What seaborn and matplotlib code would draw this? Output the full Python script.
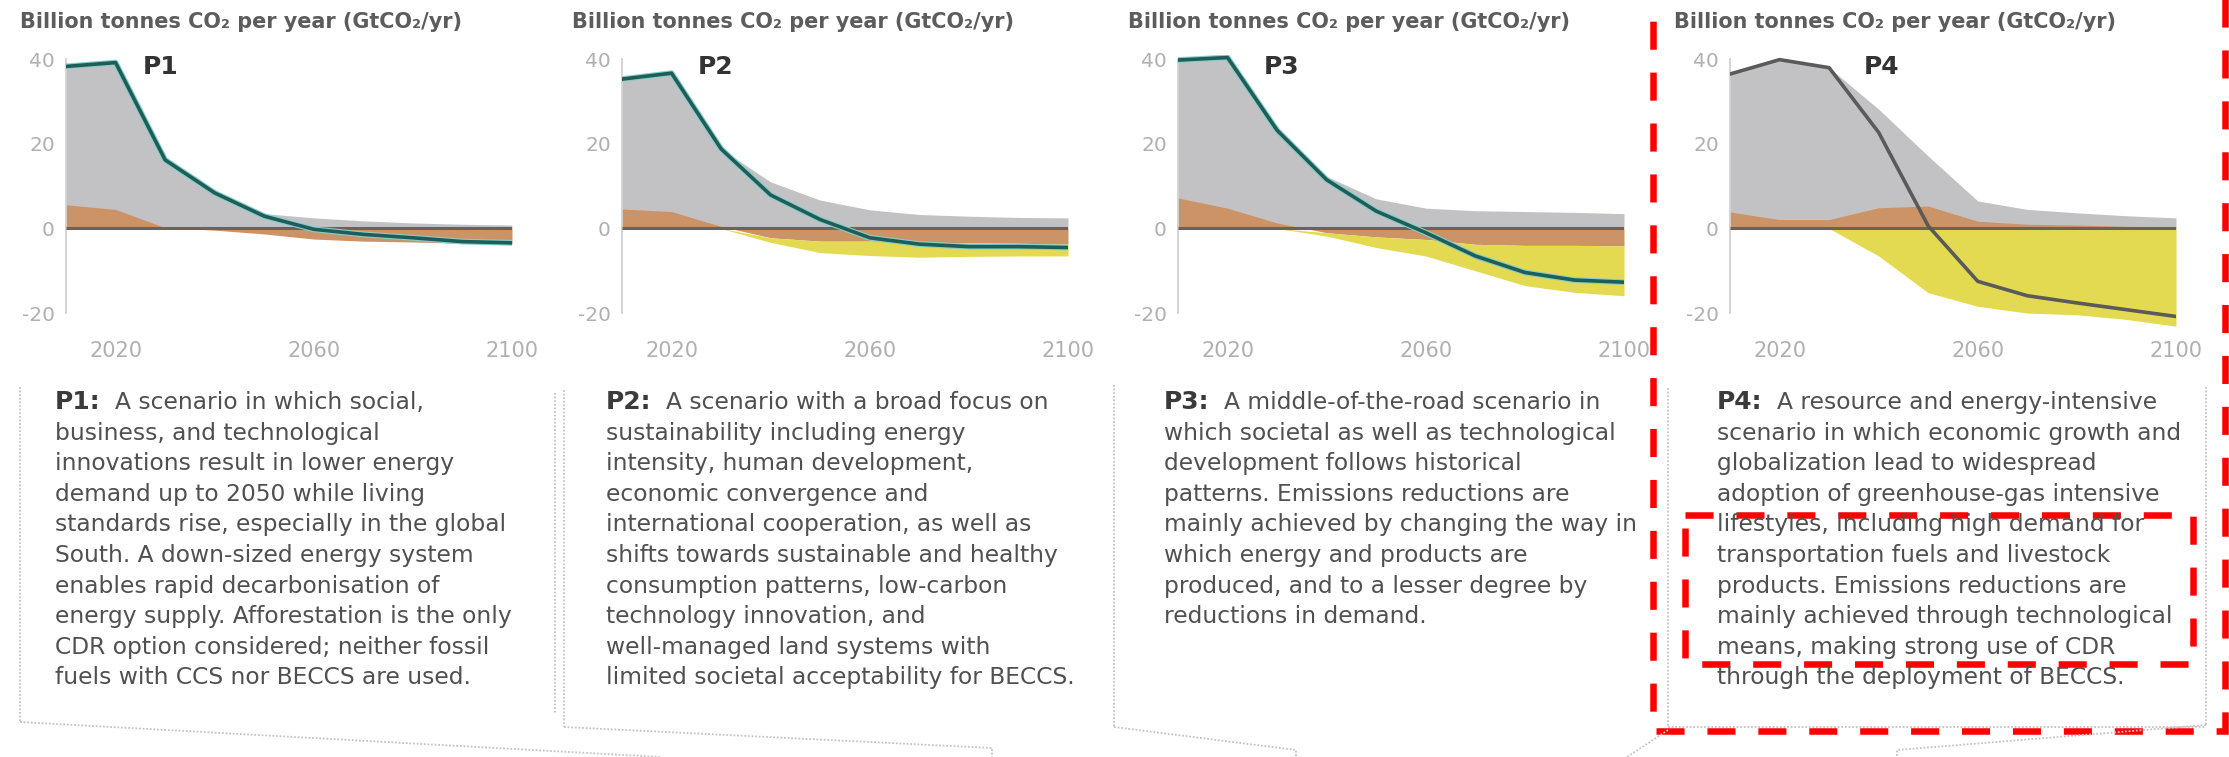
import numpy as np
import matplotlib
matplotlib.use("Agg")
import matplotlib.pyplot as plt
import matplotlib.patheffects as pe
from matplotlib.patches import Rectangle
import seaborn as sns

# ------------------------------------------------------------
# data (GtCO2 / yr)
# ------------------------------------------------------------
years = [2010, 2020, 2030, 2040, 2050, 2060, 2070, 2080, 2090, 2100]

p1_fossil = [38.3, 39.2, 16.2, 8.4, 3.5, 2.5, 1.8, 1.3, 1.0, 0.8]
p1_afolu = [5.6, 4.5, 0.2, -0.4, -1.3, -2.5, -3.0, -3.2, -3.5, -3.7]
p1_beccs = [0, 0, 0, 0, 0, 0, 0, 0, 0, 0]
p1_net = [38.3, 39.2, 16.2, 8.4, 2.9, -0.2, -1.4, -2.2, -3.1, -3.4]

p2_fossil = [35.3, 36.7, 18.8, 11.0, 6.7, 4.4, 3.3, 2.9, 2.6, 2.5]
p2_afolu = [4.6, 4.0, 0.5, -2.2, -3.0, -3.0, -3.2, -3.4, -3.5, -3.7]
p2_beccs = [0, 0, 0, -1.1, -2.7, -3.4, -3.6, -3.2, -3.0, -2.8]
p2_net = [35.3, 36.7, 18.8, 7.9, 2.1, -2.2, -3.7, -4.3, -4.3, -4.5]

p3_fossil = [39.8, 40.4, 23.2, 12.3, 7.0, 4.8, 4.2, 4.0, 3.8, 3.5]
p3_afolu = [7.2, 4.8, 1.3, -1.0, -2.0, -2.6, -3.75, -4.0, -4.0, -4.1]
p3_beccs = [0, 0, 0, -0.8, -2.5, -3.9, -6.25, -9.5, -11.1, -11.8]
p3_net = [39.8, 40.4, 23.2, 11.5, 4.1, -1.0, -6.5, -10.4, -12.2, -12.7]

p4_fossil = [36.5, 39.9, 38.0, 28.2, 17.1, 6.5, 4.5, 3.7, 3.0, 2.5]
p4_afolu = [3.9, 2.1, 2.1, 4.9, 5.3, 1.7, 1.0, 0.8, 0.5, 0.3]
p4_beccs = [0, 0, 0, -6.5, -15.2, -18.4, -20.0, -20.4, -21.5, -23.1]
p4_net = [36.5, 39.9, 38.0, 22.7, 0.6, -12.5, -15.9, -17.6, -19.2, -20.8]

scenario_names = ["P1", "P2", "P3", "P4"]
y_ticks = [-20, 0, 20, 40]
x_major = [2020, 2060, 2100]
x_minor = [2040, 2080]
title = "Billion tonnes CO\u2082 per year (GtCO\u2082/yr)"

p1_text = ["A scenario in which social,",
           "business, and technological",
           "innovations result in lower energy",
           "demand up to 2050 while living",
           "standards rise, especially in the global",
           "South. A down-sized energy system",
           "enables rapid decarbonisation of",
           "energy supply. Afforestation is the only",
           "CDR option considered; neither fossil",
           "fuels with CCS nor BECCS are used."]
p2_text = ["A scenario with a broad focus on",
           "sustainability including energy",
           "intensity, human development,",
           "economic convergence and",
           "international cooperation, as well as",
           "shifts towards sustainable and healthy",
           "consumption patterns, low-carbon",
           "technology innovation, and",
           "well-managed land systems with",
           "limited societal acceptability for BECCS."]
p3_text = ["A middle-of-the-road scenario in",
           "which societal as well as technological",
           "development follows historical",
           "patterns. Emissions reductions are",
           "mainly achieved by changing the way in",
           "which energy and products are",
           "produced, and to a lesser degree by",
           "reductions in demand."]
p4_text = ["A resource and energy-intensive",
           "scenario in which economic growth and",
           "globalization lead to widespread",
           "adoption of greenhouse-gas intensive",
           "lifestyles, including high demand for",
           "transportation fuels and livestock",
           "products. Emissions reductions are",
           "mainly achieved through technological",
           "means, making strong use of CDR",
           "through the deployment of BECCS."]

# ------------------------------------------------------------
# style
# ------------------------------------------------------------
sns.set_theme(style="white")
plt.rcParams['font.family'] = ['DejaVu Sans']

GRAY = "#c2c2c4"
ORANGE = "#cc9466"
YELLOW = "#e3da52"
TEAL = "#1f5d59"
DARKGRAY = "#5a5a5a"
TICKCOL = "#b0b0b0"

W, H = 2229, 757
fig = plt.figure(figsize=(W / 100, H / 100), dpi=100)
renderer = fig.canvas.get_renderer()


def px_rect(left, top, width, height):
    return [left / W, 1 - (top + height) / H, width / W, height / H]


def fit_size(text, target_px, base=16, **kw):
    # font size that makes `text` about target_px wide
    t = fig.text(0, 0, text, fontsize=base, **kw)
    w = t.get_window_extent(renderer).width
    t.remove()
    return base * target_px / w


title_size = fit_size(title, 443, fontweight='bold')
body_size = fit_size(p2_text[-1], 470)

panels = [
    (p1_fossil, p1_afolu, p1_beccs, p1_net, TEAL, p1_text),
    (p2_fossil, p2_afolu, p2_beccs, p2_net, TEAL, p2_text),
    (p3_fossil, p3_afolu, p3_beccs, p3_net, TEAL, p3_text),
    (p4_fossil, p4_afolu, p4_beccs, p4_net, DARKGRAY, p4_text),
]

axes_left = [66, 622, 1178, 1730]      # pixel position of each y axis
label_year = [2025.5, 2025.2, 2027.4, 2037.0]
title_left = [20, 572, 1128, 1674]
text_left = [55, 606, 1164, 1717]

for i, (fossil, afolu, beccs, net, line_col, _) in enumerate(panels):
    ax = fig.add_axes(px_rect(axes_left[i], 55, 446, 275))
    x = np.array(years, dtype=float)
    f = np.array(fossil)
    a = np.array(afolu)
    b = np.array(beccs)

    # fossil fuel & industry
    ax.fill_between(x, 0, f, color=GRAY, lw=0, zorder=1)
    # AFOLU, above and below zero
    ax.fill_between(x, 0, a, where=a >= 0, interpolate=True, color=ORANGE, lw=0, zorder=2)
    ax.fill_between(x, 0, a, where=a <= 0, interpolate=True, color=ORANGE, lw=0, zorder=2)
    # BECCS stacked under negative AFOLU
    base = np.minimum(a, 0)
    ax.fill_between(x, base, base + b, color=YELLOW, lw=0, zorder=2)

    ax.hlines(0, years[0], years[-1], color="#6d6158", lw=2.2, zorder=3)

    if line_col == TEAL:
        effects = [pe.Stroke(linewidth=4.2, foreground="#86cfc9"), pe.Normal()]
    else:
        effects = None
    sns.lineplot(x=years, y=net, ax=ax, color=line_col, lw=2.6, zorder=4,
                 path_effects=effects)

    ax.set_xlim(years[0], years[-1])
    ax.set_ylim(-24, 41)
    ax.set_xticks(x_major)
    ax.set_xticks(x_minor, minor=True)
    ax.set_yticks(y_ticks)
    ax.set_yticklabels([str(v) for v in y_ticks])
    ax.tick_params(axis='x', which='both', length=4, width=1, color="#d8d8d8",
                   labelcolor=TICKCOL, labelsize=15, pad=4, direction='out')
    ax.tick_params(axis='y', length=4, width=1, color="#d0d0d0",
                   labelcolor=TICKCOL, labelsize=14.5, pad=4, direction='out')
    sns.despine(ax=ax, bottom=True)
    ax.spines['left'].set_color("#d0d0d0")
    ax.spines['left'].set_bounds(-20, 40)
    ax.set_facecolor("none")
    ax.set_xlabel("")
    ax.set_ylabel("")

    ax.text(label_year[i], 38.1, scenario_names[i], fontsize=18, fontweight='bold',
            color="#333333", va='center', ha='left', zorder=5)

# ------------------------------------------------------------
# overlay in pixel coords: titles, descriptions, dotted frames
# ------------------------------------------------------------
ov = fig.add_axes([0, 0, 1, 1], zorder=10)
ov.set_xlim(0, W)
ov.set_ylim(H, 0)
ov.axis('off')
ov.patch.set_visible(False)

for i in range(4):
    ov.text(title_left[i], 28, title, fontsize=title_size, fontweight='bold',
            color="#5c5c5c", va='baseline', ha='left')
    lines = panels[i][5]
    ov.text(text_left[i], 409, scenario_names[i] + ":", fontsize=18, fontweight='bold',
            color="#3a3a3a", va='baseline', ha='left')
    for j, line in enumerate(lines):
        xoff = 60 if j == 0 else 0
        ov.text(text_left[i] + xoff, 409 + j * 30.6, line, fontsize=body_size,
                color="#505050", va='baseline', ha='left')

dot = dict(color="#c4c4c4", lw=1.3, ls=(0, (1, 1)))
# P1 frame
ov.plot([20, 20], [387, 722], **dot)
ov.plot([20, 661], [722, 757], **dot)
ov.plot([555, 555], [393, 713], **dot)
# P2 frame
ov.plot([564, 564], [390, 727], **dot)
ov.plot([564, 992, 992], [727, 748, 757], **dot)
ov.plot([1114, 1114], [385, 727], **dot)
# P3 frame
ov.plot([1114, 1296, 1296], [727, 750, 757], **dot)
# P4 frame
ov.plot([1668, 1668], [388, 727], **dot)
ov.plot([1668, 2206], [727, 727], **dot)
ov.plot([1668, 1627], [730, 757], **dot)
ov.plot([2206, 2206], [387, 725], **dot)
ov.plot([2206, 1897, 1897], [725, 750, 757], **dot)

# red dashed highlight boxes
red = dict(fill=False, ec="#ff0000", lw=4.7, ls=(0, (4.3, 3.5)))
ov.add_patch(Rectangle((1653, -20), 572, 751, **red))
ov.add_patch(Rectangle((1685, 515), 508, 149, **red))

fig.savefig("out.png", dpi=100)
